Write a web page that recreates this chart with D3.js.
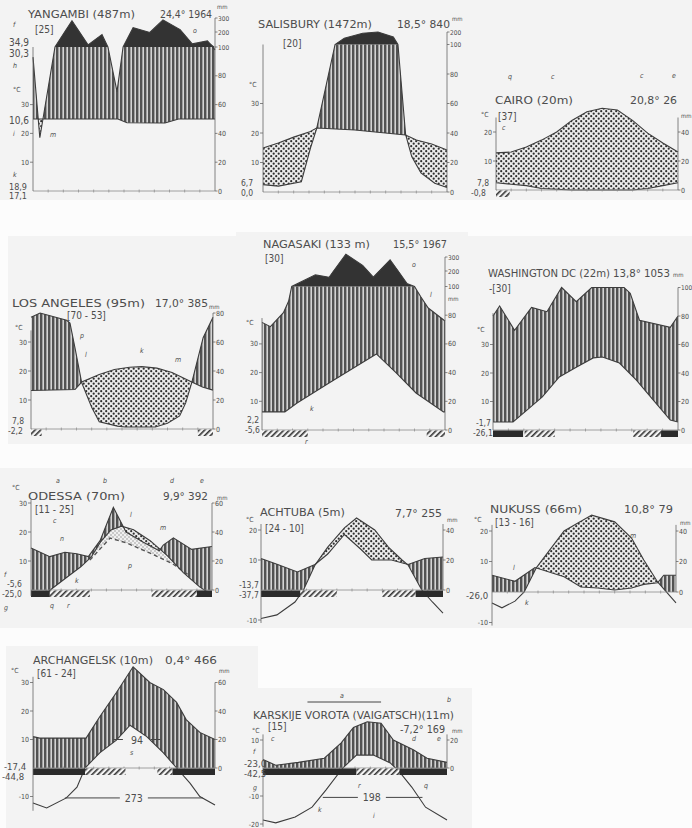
<!DOCTYPE html>
<html>
<head>
<meta charset="utf-8">
<script src="https://cdn.jsdelivr.net/npm/d3@7"></script>
<style>
body { margin: 0; background: #fcfcfc; }
svg { display: block; }
text { font-family: "DejaVu Sans Condensed", "DejaVu Sans", sans-serif; fill: #4d4d4d; }
</style>
</head>
<body>
<div id="chart"></div>
<script>
// ---- data: [month position 0..12, value] ; temperature in °C, precipitation in mm
var yangambiT = [[0,25],[5.6,25],[6.2,23.7],[8.7,23.6],[9.6,25],[12,25]];
var yangambiP = [[0,93],[0.45,37],[1.45,100],[2.57,280],[3.63,114],[4.55,183],[4.94,100],[5.54,69],[5.94,100],[6.6,231],[7.7,197],[8.57,286],[9.7,217],[10.5,121],[11.5,141],[12,98]];
var salisburyT = [[0,14.9],[1,16.6],[2,18.6],[3,20.3],[3.5,21.7],[6,21],[9.3,19.3],[10,17.6],[11,16.3],[12,14.2]];
var salisburyP = [[0,5],[1,4],[2.5,7],[3.1,30],[3.5,43],[4.7,100],[5.3,150],[6.5,190],[7.5,200],[8.5,160],[8.8,100],[9.3,39],[9.7,24],[10.3,13],[11.2,6],[12,3]];
var cairoT = [[0,12.8],[1,13.1],[2,14.8],[3,17.2],[4,20],[5,24],[6,27],[7,28.2],[8,27.6],[9,24],[10,19.6],[11,16.2],[12,13.1]];
var cairoP = [[0,5],[1,4],[2,3],[3,1],[4,0.5],[5,0],[9,0],[10,1],[11,3],[12,5]];
var losAngelesT = [[0,13.3],[2.9,13.6],[3.34,16.2],[4.5,18.8],[5.5,20.5],[6.5,21.3],[7.3,21.5],[8.3,21],[9.3,19.5],[10.6,16.2],[11.3,14.5],[12,13.4]];
var losAngelesP = [[0,77],[0.6,80],[2.35,75],[2.57,73],[2.9,56],[3.34,32],[4,15],[4.5,5],[5.7,2],[6.2,1.4],[8.2,1.4],[9,4],[9.8,9],[10.2,18],[10.6,32],[11.35,63],[12,77]];
var nagasakiT = [[0,6.3],[1.5,6.3],[2.3,9.4],[4.5,16.7],[7.5,26.5],[8.8,19.9],[10.1,12.9],[11.9,6.3],[12,6.3]];
var nagasakiP = [[0,75],[0.55,72],[1.42,82],[1.75,90],[1.95,100],[3.5,175],[4.4,160],[5.5,320],[6.6,240],[7.3,160],[8.4,280],[9.5,120],[10,100],[10.4,93],[10.9,85],[12,76]];
var washingtonT = [[0,2.8],[1.3,2.8],[2.2,7],[3.2,11.6],[4.3,18.6],[5.4,22],[6.5,25.3],[7.1,25.6],[8.2,23.5],[9.3,17.5],[10.4,10.5],[11.5,3.5],[12,2.8]];
var washingtonP = [[0,80],[0.43,87],[1.4,70],[2.5,86],[3.5,83],[4.45,100],[5.4,90],[6.4,100],[8.5,100],[8.9,96],[9.5,77],[11.5,72],[12,80]];
var odessaT = [[0,-1.2],[1,-1.3],[1.4,0.5],[2.4,4.5],[3.3,8],[4,11.4],[4.6,16.5],[5.3,20.7],[6,22],[6.8,20.8],[7.9,17],[9,12],[10.1,6],[11.2,1],[11.7,-0.7],[12,-1.2]];
var odessaP = [[0,29],[1.25,23],[2.25,26],[3.03,25],[3.8,23],[4.58,34],[5.46,57],[6.3,40],[7.45,33],[8.5,27],[8.77,31],[9.44,36],[10.65,28],[12,30]];
var odessaT2 = [[3.9,10.3],[5.24,17.9],[6.35,16.2],[7.9,12.7],[9.4,9],[10.5,5]];
var achtubaT = [[0,-9.5],[1.05,-8.3],[2.24,-4],[2.8,0],[3.56,8.3],[4.4,14.3],[5.5,20.7],[6.3,24],[7.5,20],[8.4,14.3],[9.3,10],[9.7,8.3],[10.6,0],[11.3,-4],[12,-7.7]];
var achtubaP = [[0,21],[1.1,17],[2.4,12],[3.56,17],[4.4,24],[5.5,37],[6.6,27],[7.3,20],[8.6,20],[9.7,17],[10.8,21],[12,22]];
var nukussT = [[0,-3.6],[0.65,-5.2],[1.5,-3],[2.1,0],[2.9,8],[4.7,20],[6.5,25.2],[8,23],[9.1,17.7],[9.9,10.5],[10.8,3.3],[12,-3.6]];
var nukussP = [[0,11],[1.5,7],[2.8,16],[4.7,10],[5.8,3.3],[6.9,2.6],[8,1.3],[9.1,2.6],[9.9,5],[10.8,6],[11.2,11],[12,11]];
var archangelskT = [[0,-12.3],[0.9,-14],[2.2,-10.5],[2.9,-6.7],[3.43,0],[4.4,5.3],[5.5,9.8],[6.4,15],[7.5,11],[8.6,5.3],[9.47,0],[10.35,-5.3],[11,-10],[12,-13]];
var archangelskP = [[0,22],[0.44,21],[3.5,21],[4.4,36],[5.5,53],[6.6,71],[7.7,60],[8.6,55],[9.47,46],[10.1,34],[11,25],[12,20]];
var karskijeT = [[0,-18.6],[0.83,-19.6],[2.1,-17.5],[3.2,-14],[4.1,-7.9],[5.2,0],[6.1,4.6],[7.2,4.6],[8.3,1.8],[8.9,-1.4],[9.7,-6.8],[10.6,-14],[12,-18.6]];
var karskijeP = [[0,6],[0.83,2],[2.3,4],[4,7],[5.1,18],[5.9,29],[6.8,33],[7.7,32],[8.5,20],[9.8,13],[10.7,7],[12,4]];

// frost periods: [from month, to month, kind] b = black, h = hatched
var cairoFrost = [[0,0.9,"h"]];
var losAngelesFrost = [[0,0.7,"h"],[11,12,"h"]];
var nagasakiFrost = [[0,3,"h"],[10.8,12,"h"]];
var washingtonFrost = [[0,1.95,"b"],[2.05,4,"h"],[9.1,10.9,"h"],[10.9,12,"b"]];
var odessaFrost = [[0,1.25,"b"],[1.25,3.9,"h"],[8,11,"h"],[11,12,"b"]];
var achtubaFrost = [[0,2.6,"b"],[2.6,5,"h"],[8,10.2,"h"],[10.2,12,"b"]];
var archangelskFrost = [[0,3.43,"b"],[3.43,6.1,"h"],[8.2,9.2,"h"],[9.2,12,"b"]];
var karskijeFrost = [[0,6.1,"b"],[6.1,8.9,"h"],[8.9,12,"b"]];

var stationNames = ["YANGAMBI (487m)", "SALISBURY (1472m)", "CAIRO (20m)", "LOS ANGELES (95m)", "NAGASAKI (133 m)", "WASHINGTON DC (22m)", "ODESSA (70m)", "ACHTUBA (5m)", "NUKUSS (66m)", "ARCHANGELSK (10m)", "KARSKIJE VOROTA (VAIGATSCH)(11m)"];
var stationMeans = ["24,4° 1964", "18,5° 840", "20,8° 26", "17,0° 385", "15,5° 1967", "13,8° 1053", "9,9° 392", "7,7° 255", "10,8° 79", "0,4° 466", "-7,2° 169"];
var stationYears = ["[25]", "[20]", "[37]", "[70 - 53]", "[30]", "-[30]", "[11 - 25]", "[24 - 10]", "[13 - 16]", "[61 - 24]", "[15]"];
var sideValues = [["34,9","30,3","10,6","18,9","17,1"], ["6,7","0,0"], ["7,8","-0,8"], ["7,8","-2,2"], ["2,2","-5,6"], ["-1,7","-26,1"], ["-5,6","-25,0"], ["-13,7","-37,7"], ["-26,0"], ["-17,4","-44,8"], ["-23,0","-42,5"]];

// ---- layout
var panels = [
 {T: yangambiT, P: yangambiP, frost: [], left: 33, right: 215, y0: 191, k: 2.88, upper: [[200,32],[300,18]],
  tAxis: [0,50], tTicks: [10,20,30], pTop: 300, pTicks: [0,20,40,60,80,100,200,300],
  title: [28,18,107], mean: [160,18,52], years: [35,33], mm: [217,9],
  side: [[9,46,10],[9,56.5,10],[9,124,10],[9,190,9],[9,199,9]],
  notes: [["f",13,27],["h",13,68],["i",13,136],["k",13,177],["m",50,137],["o",193,33],["°C",13,92]]},
 {T: salisburyT, P: salisburyP, frost: [], left: 263, right: 447, y0: 192, k: 2.95, upper: [[200,32]],
  tAxis: [0,50], tTicks: [10,20,30], pTop: 200, pTicks: [0,20,40,60,80,100,200],
  title: [258,28,114], mean: [397,28,53], years: [283,47], mm: [452,21],
  side: [[241,186,8.5],[241,196,8.5]], notes: [["°C",249,87]]},
 {T: cairoT, P: cairoP, frost: cairoFrost, left: 496, right: 678, y0: 190, k: 2.9, upper: [],
  tAxis: [0,25], tTicks: [10,20], pTop: 50, pTicks: [0,20,40],
  title: [495,104,78], mean: [630,104,47], years: [498,120], mm: [681,118],
  side: [[477,186,8.5],[471,196,8.5]],
  notes: [["q",508,79],["c",551,79],["c",640,78],["e",672,78],["c",502,130],["°C",481,117]]},
 {T: losAngelesT, P: losAngelesP, frost: losAngelesFrost, left: 31, right: 213, y0: 429, k: 2.9, upper: [],
  tAxis: [0,34], tTicks: [10,20,30], pTop: 80, pTicks: [0,20,40,60,80],
  title: [12,307,133], mean: [155,307,53], years: [67,319], mm: [209,309],
  side: [[12,424,8.5],[8,434,8.5]],
  notes: [["°C",15,330],["p",80,338],["l",85,357],["k",140,353],["m",175,362]]},
 {T: nagasakiT, P: nagasakiP, frost: nagasakiFrost, left: 262, right: 445, y0: 430, k: 2.87, upper: [[200,271],[300,257]],
  tAxis: [0,39], tTicks: [10,20,30], pTop: 300, pTicks: [0,20,40,60,80,100,200,300],
  title: [263,248,107], mean: [393,248,54], years: [265,262], mm: [448,301],
  side: [[247,423,8.5],[245,433,8.5]],
  notes: [["°C",246,325],["o",412,267],["l",430,297],["k",310,411],["r",305,444]]},
 {T: washingtonT, P: washingtonP, frost: washingtonFrost, left: 493, right: 678, y0: 430, k: 2.85, upper: [],
  tAxis: [0,41], tTicks: [10,20,30], pTop: 100, pTicks: [0,20,40,60,80,100],
  title: [488,277,122], mean: [613,277,57], years: [489,292], mm: [673,277],
  side: [[476,426,8.5],[473,436,8.5]], notes: [["°C",477,332]]},
 {T: odessaT, P: odessaP, T2: odessaT2, frost: odessaFrost, left: 31, right: 212, y0: 590, k: 2.9, upper: [],
  tAxis: [-2,31], tTicks: [10,20,30], pTop: 60, pTicks: [0,20,40,60],
  title: [28,500,97], mean: [163,500,45], years: [35,513], mm: [217,500],
  side: [[7,587,8.5],[2,597,8.5]],
  notes: [["°C",12,490],["a",56,483],["b",103,483],["d",170,483],["e",200,483],["c",53,523],["n",60,541],["l",130,517],["m",160,530],["p",128,568],["k",75,583],["f",4,577],["g",4,610],["q",50,608],["r",67,608]]},
 {T: achtubaT, P: achtubaP, frost: achtubaFrost, left: 261, right: 443, y0: 590, k: 3.0, upper: [],
  tAxis: [-11,22], tTicks: [-10,10,20], pTop: 44, pTicks: [0,20,40],
  title: [260,516,85], mean: [395,517,47], years: [265,532], mm: [447,522],
  side: [[239,588,8.5],[239,598,8.5]], notes: [["°C",246,522]]},
 {T: nukussT, P: nukussP, frost: [], left: 492, right: 676, y0: 592, k: 3.05, upper: [],
  tAxis: [-11,22], tTicks: [-10,10,20], pTop: 44, pTicks: [0,20,40],
  title: [490,513,92], mean: [624,513,49], years: [495,526], mm: [680,525],
  side: [[466,599,9.5]], notes: [["°C",474,522],["l",513,570],["m",630,538],["k",525,605]]},
 {T: archangelskT, P: archangelskP, frost: archangelskFrost, left: 33, right: 215, y0: 768, k: 2.85, upper: [],
  tAxis: [-15,32], tTicks: [-10,10,20,30], pTop: 60, pTicks: [0,20,40,60],
  title: [33,664,120], mean: [165,664,52], years: [37,677], mm: [219,673],
  side: [[4,770,9.5],[2,780,9.5]], notes: [["°C",11,673],["s",130,755]]},
 {T: karskijeT, P: karskijeP, frost: karskijeFrost, left: 263, right: 447, y0: 768, k: 2.8, upper: [],
  tAxis: [-21,12], tTicks: [-20,-10,10], pTop: 24, pTicks: [0,20],
  title: [253,719,201], mean: [400,733,45], years: [268,730], mm: [452,733],
  side: [[244,767,9.5],[244,777,9.5]],
  notes: [["°C",252,733],["c",271,741],["f",253,754],["g",253,790],["d",412,741],["e",437,741],["r",358,788],["q",424,788],["k",318,812],["i",373,818],["a",340,698],["b",447,702]]}
];

// ---- drawing
var svg = d3.select("#chart").append("svg").attr("width", 692).attr("height", 828);
var defs = svg.append("defs");

var pv = defs.append("pattern").attr("id", "vert").attr("patternUnits", "userSpaceOnUse")
    .attr("width", 4).attr("height", 8);
pv.append("rect").attr("width", 4).attr("height", 8).attr("fill", "#d4d4d4");
pv.append("rect").attr("width", 2.4).attr("height", 8).attr("fill", "#525252");

var pd = defs.append("pattern").attr("id", "dots").attr("patternUnits", "userSpaceOnUse")
    .attr("width", 5).attr("height", 5);
pd.append("rect").attr("width", 5).attr("height", 5).attr("fill", "#ececec");
pd.append("circle").attr("cx", 1.2).attr("cy", 1.2).attr("r", 1.1).attr("fill", "#2e2e2e");
pd.append("circle").attr("cx", 3.7).attr("cy", 3.7).attr("r", 1.1).attr("fill", "#2e2e2e");

var pl = defs.append("pattern").attr("id", "lightdots").attr("patternUnits", "userSpaceOnUse")
    .attr("width", 4).attr("height", 4);
pl.append("rect").attr("width", 4).attr("height", 4).attr("fill", "#f0f0f0");
pl.append("circle").attr("cx", 1).attr("cy", 1).attr("r", 0.8).attr("fill", "#9a9a9a");
pl.append("circle").attr("cx", 3).attr("cy", 3).attr("r", 0.8).attr("fill", "#9a9a9a");

var ph = defs.append("pattern").attr("id", "hatch").attr("patternUnits", "userSpaceOnUse")
    .attr("width", 4).attr("height", 4).attr("patternTransform", "rotate(45)");
ph.append("rect").attr("width", 4).attr("height", 4).attr("fill", "#f4f4f4");
ph.append("rect").attr("width", 1.6).attr("height", 4).attr("fill", "#333");

// faint scan-like panel backgrounds
var bgs = [[0,0,692,200],[8,236,228,208],[236,232,232,212],[468,236,224,208],[0,468,692,160],[6,646,252,182],[252,688,220,140]];
svg.selectAll("rect.bg").data(bgs).enter().append("rect").attr("class", "bg")
    .attr("x", d => d[0]).attr("y", d => d[1]).attr("width", d => d[2]).attr("height", d => d[3])
    .attr("fill", "#f3f3f3");

function txt(g, s, x, y, size, extra) {
  var t = g.append("text").attr("x", x).attr("y", y).attr("font-size", size).text(s);
  if (extra) extra(t);
  return t;
}

panels.forEach(function (c, i) {
  var g = svg.append("g");
  var x = d3.scaleLinear().domain([0, 12]).range([c.left, c.right]);
  var dom = [0, 100], rng = [c.y0, c.y0 - 50 * c.k];
  c.upper.forEach(function (u) { dom.push(u[0]); rng.push(u[1]); });
  var y = d3.scaleLinear().domain(dom).range(rng);
  var tf = d3.scaleLinear().domain(c.T.map(d => d[0])).range(c.T.map(d => d[1]));
  var pf = d3.scaleLinear().domain(c.P.map(d => d[0])).range(c.P.map(d => d[1]));
  var ms = d3.range(0, 12.0001, 0.02).concat(c.T.map(d => d[0]), c.P.map(d => d[0])).sort(d3.ascending);

  var humid = d3.area().x(m => x(m))
      .y0(m => y(Math.max(2 * tf(m), 0)))
      .y1(m => y(Math.max(Math.min(pf(m), 100), 2 * tf(m), 0)));
  var arid = d3.area().x(m => x(m))
      .y0(m => y(pf(m)))
      .y1(m => y(Math.max(2 * tf(m), pf(m))));
  var wet = d3.area().x(m => x(m))
      .y0(y(100))
      .y1(m => y(Math.max(pf(m), 100)));

  var line = d3.line().x(d => x(d[0]));

  // secondary temperature curve (Odessa): light dotted band under the main curve
  if (c.T2) {
    var t2f = d3.scaleLinear().domain(c.T2.map(d => d[0])).range(c.T2.map(d => d[1]));
    var m2 = ms.filter(m => m >= c.T2[0][0] && m <= c.T2[c.T2.length - 1][0]);
    var band = d3.area().x(m => x(m))
        .y0(m => y(2 * t2f(m)))
        .y1(m => y(Math.max(2 * tf(m), 2 * t2f(m))));
    g.append("path").attr("d", band(m2)).attr("fill", "url(#lightdots)");
  }

  g.append("path").attr("d", humid(ms)).attr("fill", "url(#vert)");
  g.append("path").attr("d", arid(ms)).attr("fill", "url(#dots)");
  g.append("path").attr("d", wet(ms)).attr("fill", "#333");

  if (c.T2) {
    g.append("path").attr("d", line.y(d => y(2 * d[1]))(c.T2))
        .attr("fill", "none").attr("stroke", "#555").attr("stroke-width", 1.4)
        .attr("stroke-dasharray", "4,3");
  }

  // curves
  g.append("path").attr("d", line.y(d => y(2 * d[1]))(c.T))
      .attr("fill", "none").attr("stroke", "#3c3c3c").attr("stroke-width", 1.1);
  g.append("path").attr("d", line.y(d => y(d[1]))(c.P))
      .attr("fill", "none").attr("stroke", "#3c3c3c").attr("stroke-width", 1.1);

  // baseline with month ticks
  g.append("line").attr("x1", c.left).attr("x2", c.right).attr("y1", c.y0).attr("y2", c.y0)
      .attr("stroke", "#8a8a8a").attr("stroke-width", 0.8);
  g.selectAll("line.mt").data(d3.range(1, 12)).enter().append("line")
      .attr("x1", m => x(m)).attr("x2", m => x(m)).attr("y1", c.y0 - 1.5).attr("y2", c.y0 + 1.5)
      .attr("stroke", "#8a8a8a").attr("stroke-width", 0.7);

  // frost bars
  g.selectAll("rect.fr").data(c.frost).enter().append("rect")
      .attr("x", d => x(d[0])).attr("width", d => x(d[1]) - x(d[0]))
      .attr("y", c.y0 + 0.5).attr("height", 6.5)
      .attr("fill", d => d[2] === "b" ? "#2b2b2b" : "url(#hatch)");

  // temperature axis (left)
  g.append("line").attr("x1", c.left).attr("x2", c.left)
      .attr("y1", y(2 * c.tAxis[0])).attr("y2", y(2 * c.tAxis[1]))
      .attr("stroke", "#666").attr("stroke-width", 0.8);
  c.tTicks.forEach(function (t) {
    g.append("line").attr("x1", c.left - 3).attr("x2", c.left).attr("y1", y(2 * t)).attr("y2", y(2 * t))
        .attr("stroke", "#666").attr("stroke-width", 0.8);
    txt(g, t, c.left - 4, y(2 * t) + 2.5, 7, t2 => t2.attr("text-anchor", "end"));
  });

  // precipitation axis (right)
  g.append("line").attr("x1", c.right).attr("x2", c.right)
      .attr("y1", y(0)).attr("y2", y(c.pTop))
      .attr("stroke", "#666").attr("stroke-width", 0.8);
  c.pTicks.forEach(function (p) {
    g.append("line").attr("x1", c.right).attr("x2", c.right + 2.5).attr("y1", y(p)).attr("y2", y(p))
        .attr("stroke", "#666").attr("stroke-width", 0.8);
    txt(g, p, c.right + 3, y(p) + 2.5, p >= 100 ? 6.5 : 7);
  });
  txt(g, "mm", c.mm[0], c.mm[1], 6);

  // texts
  txt(g, stationNames[i], c.title[0], c.title[1], 10.5,
      t => t.attr("textLength", c.title[2]).attr("lengthAdjust", "spacingAndGlyphs"));
  txt(g, stationMeans[i], c.mean[0], c.mean[1], 11,
      t => t.attr("textLength", c.mean[2]).attr("lengthAdjust", "spacingAndGlyphs"));
  txt(g, stationYears[i], c.years[0], c.years[1], 10);
  sideValues[i].forEach(function (s, j) {
    var p = c.side[j];
    txt(g, s, p[0], p[1], p[2]);
  });
  c.notes.forEach(function (n) {
    txt(g, n[0], n[1], n[2], 7, t => t.attr("font-style", n[0] === "°C" ? "normal" : "italic"));
  });

  // duration markers
  if (i === 9) {
    [[5.3, 8.4, 10, "94"], [2.1, 11.2, -10.5, "273"]].forEach(function (d) {
      var yy = y(2 * d[2]), xm = x((d[0] + d[1]) / 2);
      g.append("line").attr("x1", x(d[0])).attr("x2", xm - 14).attr("y1", yy).attr("y2", yy).attr("stroke", "#444");
      g.append("line").attr("x1", xm + 14).attr("x2", x(d[1])).attr("y1", yy).attr("y2", yy).attr("stroke", "#444");
      txt(g, d[3], xm, yy + 4, 10.5, t => t.attr("text-anchor", "middle"));
    });
  }
  if (i === 10) {
    var yy = y(2 * -10.5), xm = x(7.1);
    g.append("line").attr("x1", x(3.9)).attr("x2", xm - 14).attr("y1", yy).attr("y2", yy).attr("stroke", "#444");
    g.append("line").attr("x1", xm + 14).attr("x2", x(10.4)).attr("y1", yy).attr("y2", yy).attr("stroke", "#444");
    txt(g, "198", xm, yy + 4, 10.5, t => t.attr("text-anchor", "middle"));
    g.append("line").attr("x1", x(2.9)).attr("x2", x(7.7)).attr("y1", 702).attr("y2", 702).attr("stroke", "#444");
  }
});
</script>
</body>
</html>
